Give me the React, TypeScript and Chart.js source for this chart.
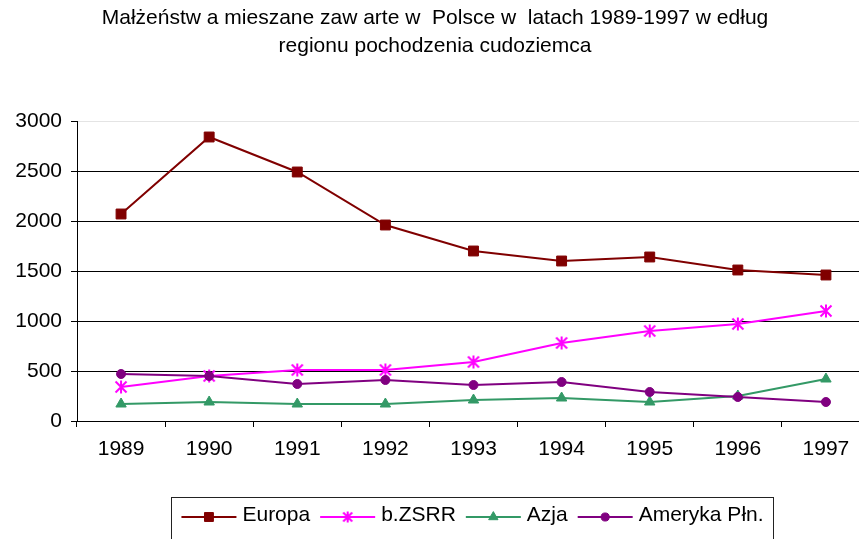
import React, { useEffect, useRef } from "react";
import { Chart, registerables } from "chart.js";
import { drawPoint } from "chart.js/helpers";

Chart.register(...registerables);

const FONT = '"Liberation Sans", Arial, sans-serif';

const titleLines = [
  "Małżeństw a mieszane zaw arte w  Polsce w  latach 1989-1997 w edług",
  "regionu pochodzenia cudoziemca",
];
const years = ["1989", "1990", "1991", "1992", "1993", "1994", "1995", "1996", "1997"];
const europa = [2070, 2840, 2490, 1960, 1700, 1600, 1640, 1510, 1460];
const bZSRR = [340, 450, 510, 510, 590, 780, 900, 970, 1100];
const azja = [170, 190, 170, 170, 210, 230, 190, 250, 420];
const amerykaPln = [470, 450, 370, 410, 360, 390, 290, 240, 190];
const yMin = 0;
const yMax = 3000;
const yStep = 500;

function makeStar(color: string, size: number) {
  const c = document.createElement("canvas");
  c.width = size;
  c.height = size;
  const g = c.getContext("2d")!;
  g.strokeStyle = color;
  g.lineWidth = 2;
  g.beginPath();
  g.moveTo(1.5, 1.5);
  g.lineTo(size - 1.5, size - 1.5);
  g.moveTo(size - 1.5, 1.5);
  g.lineTo(1.5, size - 1.5);
  g.moveTo(size / 2, 0.5);
  g.lineTo(size / 2, size - 0.5);
  g.stroke();
  return c;
}

const boxLegend = {
  id: "boxLegend",
  afterDraw(chart: any) {
    const ctx = chart.ctx;
    ctx.save();
    ctx.font = `21px ${FONT}`;
    const lineLen = 55;
    const gapText = 6;
    const gapItem = 10;
    const dsList = chart.data.datasets;
    const widths = dsList.map((d: any) => ctx.measureText(d.label).width);
    let total = 0;
    widths.forEach((w: number) => (total += lineLen + gapText + w));
    total += gapItem * (dsList.length - 1);
    const boxL = 171.5;
    const boxR = 773.5;
    const cx = (boxL + boxR) / 2;
    let x = cx - total / 2;
    const yLine = 517;
    const yText = 515;
    ctx.strokeStyle = "#222";
    ctx.lineWidth = 1;
    ctx.strokeRect(boxL, 497.5, boxR - boxL, 70);
    dsList.forEach((d: any, i: number) => {
      ctx.strokeStyle = d.borderColor;
      ctx.lineWidth = 2;
      ctx.beginPath();
      ctx.moveTo(x, yLine);
      ctx.lineTo(x + lineLen, yLine);
      ctx.stroke();
      ctx.fillStyle = d.pointBackgroundColor;
      ctx.strokeStyle = d.pointBorderColor;
      ctx.lineWidth = d.pointBorderWidth;
      drawPoint(
        ctx,
        {
          pointStyle: d.legendPointStyle || d.pointStyle,
          rotation: 0,
          radius: d.pointRadius * 0.9,
          borderWidth: d.pointBorderWidth,
        },
        x + lineLen / 2,
        yLine
      );
      ctx.fillStyle = "#000";
      ctx.textAlign = "left";
      ctx.textBaseline = "middle";
      ctx.fillText(d.label, x + lineLen + gapText, yText);
      x += lineLen + gapText + widths[i] + gapItem;
    });
    ctx.restore();
  },
};

export default function App() {
  const ref = useRef<HTMLCanvasElement>(null);
  useEffect(() => {
    if (!ref.current) return;
    Chart.defaults.font.family = FONT;
    Chart.defaults.color = "#000";
    const mk = (
      label: string,
      data: number[],
      color: string,
      style: any,
      radius: number,
      bw: number,
      order: number
    ) => ({
      label,
      data,
      borderColor: color,
      backgroundColor: color,
      borderWidth: 2,
      pointStyle: style,
      pointRadius: radius,
      pointHoverRadius: radius,
      pointBackgroundColor: color,
      pointBorderColor: color,
      pointBorderWidth: bw,
      tension: 0,
      order,
    });
    const star = makeStar("#FF00FF", 14);
    const starSmall = makeStar("#FF00FF", 12);
    const zsrr: any = mk("b.ZSRR", bZSRR, "#FF00FF", star, 7, 2, 3);
    zsrr.legendPointStyle = starSmall;
    const chart = new Chart(ref.current, {
      type: "line",
      data: {
        labels: years,
        datasets: [
          mk("Europa", europa, "#800000", "rect", 7, 1, 4),
          zsrr,
          mk("Azja", azja, "#339966", "triangle", 6, 1, 2),
          mk("Ameryka Płn.", amerykaPln, "#800080", "circle", 4.5, 1, 1),
        ],
      },
      options: {
        animation: false,
        responsive: true,
        maintainAspectRatio: false,
        layout: { padding: { left: 0, right: 16, top: 0, bottom: 0 } },
        plugins: {
          legend: { display: false },
          tooltip: { enabled: false },
          title: {
            display: true,
            text: titleLines,
            color: "#000",
            font: { size: 21, weight: "normal", family: FONT, lineHeight: "28px" },
            padding: { top: 4, bottom: 61 },
          },
        },
        scales: {
          x: {
            type: "category",
            offset: true,
            afterFit: (s: any) => {
              s.height = 118;
            },
            grid: {
              offset: true,
              drawOnChartArea: false,
              drawTicks: true,
              tickLength: 6,
              tickColor: "#000",
              color: "#000",
            },
            border: { display: true, color: "#000", width: 1 },
            ticks: { font: { size: 21, family: FONT }, color: "#000", padding: 10, maxRotation: 0 },
          },
          y: {
            min: yMin,
            max: yMax,
            afterFit: (s: any) => {
              s.width = 77;
            },
            grid: {
              color: (c: any) => (c.tick && c.tick.value === yMax ? "#e4e4e4" : "#000"),
              tickColor: "#000",
              tickLength: 6,
              lineWidth: 1,
            },
            border: { display: true, color: "#000", width: 1 },
            ticks: {
              stepSize: yStep,
              font: { size: 21, family: FONT },
              color: "#000",
              padding: 9,
              callback: (v: any) => String(v),
            },
          },
        },
      } as any,
      plugins: [boxLegend],
    });
    return () => chart.destroy();
  }, []);
  return (
    <div
      style={{
        position: "fixed",
        left: 0,
        top: 0,
        width: "886px",
        height: "539px",
        background: "#fff",
      }}
    >
      <canvas ref={ref} style={{ display: "block" }} />
    </div>
  );
}
